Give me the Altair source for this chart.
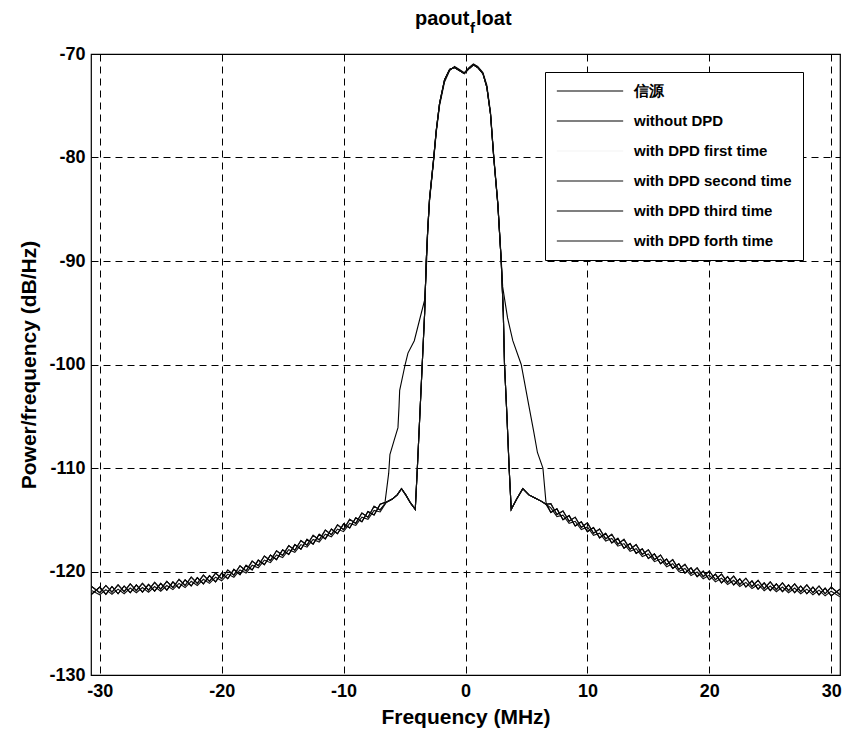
import altair as alt
import pandas as pd

# ---------------- data ----------------
series_names = ["信源", "without DPD", "with DPD first time",
                "with DPD second time", "with DPD third time", "with DPD forth time"]
series_colors = ["#000000", "#000000", "#f4f4f4", "#111111", "#000000", "#111111"]

floor_left_x = [-30.72, -30.0, -29.5, -29.0, -28.5, -28.0, -27.5, -27.0, -26.5, -26.0,
                -25.5, -25.0, -24.5, -24.0, -23.5, -23.0, -22.5, -22.0, -21.5, -21.0,
                -20.5, -20.0, -19.5, -19.0, -18.5, -18.0, -17.5, -17.0, -16.5, -16.0,
                -15.5, -15.0, -14.5, -14.0, -13.5, -13.0, -12.5, -12.0, -11.5, -11.0,
                -10.5, -10.0, -9.5, -9.0, -8.5, -8.0, -7.5, -7.0]
floor_left_a = [-121.40, -122.05, -121.35, -122.00, -121.30, -121.95, -121.20, -121.85, -121.15, -121.80,
                -121.05, -121.70, -120.95, -121.55, -120.75, -121.35, -120.55, -121.15, -120.35, -120.95,
                -120.15, -120.70, -119.85, -120.35, -119.45, -119.95, -119.00, -119.45, -118.50, -118.95,
                -118.00, -118.45, -117.50, -117.95, -117.00, -117.45, -116.50, -116.95, -116.00, -116.45,
                -115.50, -115.95, -114.95, -115.35, -114.35, -114.75, -113.70, -114.05]
floor_left_b = [-122.25, -121.50, -122.20, -121.45, -122.15, -121.40, -122.05, -121.30, -122.00, -121.25,
                -121.90, -121.15, -121.80, -121.00, -121.60, -120.80, -121.40, -120.60, -121.20, -120.40,
                -121.00, -120.15, -120.70, -119.80, -120.30, -119.40, -119.85, -118.90, -119.35, -118.40,
                -118.85, -117.90, -118.35, -117.40, -117.85, -116.90, -117.35, -116.40, -116.85, -115.90,
                -116.35, -115.40, -115.80, -114.80, -115.20, -114.20, -114.55, -113.50]
floor_left_c = [-121.80, -122.25, -121.75, -122.20, -121.70, -122.15, -121.60, -122.05, -121.55, -122.00,
                -121.45, -121.90, -121.35, -121.75, -121.15, -121.55, -120.95, -121.35, -120.75, -121.15,
                -120.55, -120.90, -120.25, -120.55, -119.85, -120.15, -119.40, -119.65, -118.90, -119.15,
                -118.40, -118.65, -117.90, -118.15, -117.40, -117.65, -116.90, -117.15, -116.40, -116.65,
                -115.90, -116.15, -115.35, -115.55, -114.75, -114.95, -114.10, -114.25]

floor_right_x = [7.0, 7.5, 8.0, 8.5, 9.0, 9.5, 10.0, 10.5, 11.0, 11.5,
                 12.0, 12.5, 13.0, 13.5, 14.0, 14.5, 15.0, 15.5, 16.0, 16.5,
                 17.0, 17.5, 18.0, 18.5, 19.0, 19.5, 20.0, 20.5, 21.0, 21.5,
                 22.0, 22.5, 23.0, 23.5, 24.0, 24.5, 25.0, 25.5, 26.0, 26.5,
                 27.0, 27.5, 28.0, 28.5, 29.0, 29.5, 30.0, 30.72]
floor_right_a = [-113.45, -114.50, -114.15, -115.15, -114.75, -115.75, -115.30, -116.30, -115.90, -116.85,
                 -116.40, -117.35, -116.90, -117.85, -117.40, -118.35, -117.90, -118.85, -118.40, -119.35,
                 -118.85, -119.80, -119.30, -120.20, -119.65, -120.50, -119.95, -120.80, -120.25, -121.05,
                 -120.45, -121.25, -120.65, -121.45, -120.85, -121.65, -121.00, -121.75, -121.10, -121.85,
                 -121.20, -121.95, -121.30, -122.05, -121.40, -122.15, -121.50, -122.25]
floor_right_b = [-114.30, -113.95, -115.00, -114.60, -115.60, -115.20, -116.15, -115.75, -116.75, -116.30,
                 -117.25, -116.80, -117.75, -117.30, -118.25, -117.80, -118.75, -118.30, -119.25, -118.80,
                 -119.70, -119.25, -120.15, -119.65, -120.50, -119.95, -120.80, -120.25, -121.10, -120.50,
                 -121.30, -120.70, -121.50, -120.90, -121.70, -121.10, -121.85, -121.20, -121.95, -121.30,
                 -122.05, -121.40, -122.15, -121.50, -122.25, -121.60, -122.35, -121.70]
floor_right_c = [-113.85, -114.70, -114.55, -115.35, -115.15, -115.95, -115.70, -116.50, -116.30, -117.05,
                 -116.80, -117.55, -117.30, -118.05, -117.80, -118.55, -118.30, -119.05, -118.80, -119.55,
                 -119.25, -120.00, -119.70, -120.40, -120.05, -120.70, -120.35, -121.00, -120.65, -121.25,
                 -120.85, -121.45, -121.05, -121.65, -121.25, -121.85, -121.40, -121.95, -121.50, -122.05,
                 -121.60, -122.15, -121.70, -122.25, -121.80, -122.35, -121.90, -122.45]

# main lobe of the source / DPD curves
steep_x = [-6.5, -6.0, -5.6, -5.25, -4.9, -4.5, -4.12, -3.95, -3.75, -3.55, -3.35, -3.22, -3.1, -2.95,
           -2.62, -2.4, -2.13, -1.72, -1.3, -0.9, -0.5, -0.1, 0.3, 0.65, 1.0, 1.43, 1.75, 2.05, 2.33,
           2.65, 2.93, 3.1, 3.2, 3.4, 3.58, 3.75, 4.2, 4.7, 5.2, 5.7, 6.2, 6.6]
steep_y = [-113.3, -113.0, -112.6, -112.0, -112.6, -113.4, -114.0, -110.0, -105.0, -100.0, -95.0, -90.0,
           -87.0, -84.0, -80.2, -77.4, -74.8, -72.5, -71.5, -71.3, -71.6, -71.9, -71.4, -71.05, -71.3,
           -71.9, -73.2, -75.8, -80.2, -84.5, -90.0, -95.0, -100.0, -105.0, -110.0, -114.0, -113.0,
           -112.0, -112.6, -112.9, -113.2, -113.5]

# main lobe of the curve without DPD (spectral regrowth shoulders)
wide_x = [-6.6, -6.3, -6.2, -5.85, -5.54, -5.45, -5.4, -4.95, -4.72, -4.2, -3.77, -3.36, -3.22, -3.1,
          -2.95, -2.62, -2.4, -2.13, -1.72, -1.3, -0.9, -0.5, -0.1, 0.3, 0.65, 1.0, 1.43, 1.75, 2.05,
          2.33, 2.65, 2.93, 3.05, 3.45, 3.88, 4.57, 5.2, 5.6, 5.9, 6.35, 6.6]
wide_y = [-113.3, -110.5, -108.7, -107.3, -106.1, -104.0, -102.5, -100.0, -98.9, -97.7, -95.7, -93.8,
          -91.0, -87.2, -84.2, -80.4, -77.6, -75.0, -72.7, -71.6, -71.2, -71.5, -71.8, -71.3, -70.95,
          -71.2, -71.8, -73.0, -75.6, -80.0, -84.3, -89.8, -92.5, -95.5, -97.7, -100.0, -104.0, -106.5,
          -108.5, -110.0, -113.3]

x_ticks = [-30, -20, -10, 0, 10, 20, 30]
y_ticks = [-130, -120, -110, -100, -90, -80, -70]

# ---------------- build table ----------------
composition = {
    "信源": (floor_left_a, steep_x, steep_y, floor_right_a),
    "without DPD": (floor_left_b, wide_x, wide_y, floor_right_b),
    "with DPD first time": (floor_left_c, steep_x, steep_y, floor_right_c),
    "with DPD second time": (floor_left_c, steep_x, steep_y, floor_right_c),
    "with DPD third time": (floor_left_b, steep_x, steep_y, floor_right_b),
    "with DPD forth time": (floor_left_a, steep_x, steep_y, floor_right_a),
}
rows = []
for k, name in enumerate(series_names):
    fl, lx, ly, fr = composition[name]
    xs = floor_left_x + lx + floor_right_x
    ys = fl + ly + fr
    for i, (xv, yv) in enumerate(zip(xs, ys)):
        rows.append({"series": name, "f": xv, "p": yv, "k": k, "i": i})
df = pd.DataFrame(rows)

FONT = "Liberation Sans"
W, H = 749, 621

color_scale = alt.Scale(domain=series_names, range=series_colors)

x_enc = alt.X("f:Q", title="Frequency (MHz)",
              scale=alt.Scale(domain=[-30.72, 30.72], nice=False, zero=False),
              axis=alt.Axis(values=x_ticks, labelExpr="'' + datum.value", grid=True, ticks=False,
                            domain=False, labelPadding=7, titlePadding=6, labelFlush=False))
y_enc = alt.Y("p:Q", title="Power/frequency (dB/Hz)",
              scale=alt.Scale(domain=[-130, -70], nice=False, zero=False),
              axis=alt.Axis(values=y_ticks, labelExpr="'' + datum.value", grid=True, ticks=False,
                            domain=False, labelPadding=6, titlePadding=9, labelFlush=False))

under = alt.Chart(df).mark_line(
    strokeWidth=1.1, clip=True, color="#f4f4f4"
).encode(
    x=x_enc, y=y_enc,
    detail="series:N",
    order="i:Q",
).transform_filter(alt.datum.series == "with DPD first time")

lines = alt.Chart(df).mark_line(strokeWidth=1.1, clip=True).encode(
    x=x_enc, y=y_enc,
    color=alt.Color("series:N", scale=color_scale, sort=series_names,
                    legend=alt.Legend(title=None, orient="none", legendX=454, legendY=18,
                                      symbolType="stroke", symbolSize=4400, symbolStrokeWidth=1.2,
                                      clipHeight=16, rowPadding=14,
                                      labelFont=FONT, labelFontSize=15, labelFontWeight="bold",
                                      labelColor="black", labelOffset=10,
                                      padding=11, strokeColor="black", fillColor="white",
                                      cornerRadius=0, labelLimit=300)),
    order="i:Q",
).transform_filter(alt.datum.series != "with DPD first time")

title_df = pd.DataFrame({"t": ["paout"], "s": ["f"], "u": ["loat"]})
t1 = alt.Chart(title_df).mark_text(font=FONT, fontSize=20, fontWeight="bold", align="left",
                                   baseline="alphabetic", color="black", clip=False).encode(
    text="t:N", x=alt.value(324), y=alt.value(-29))
t2 = alt.Chart(title_df).mark_text(font=FONT, fontSize=15, fontWeight="bold", align="left",
                                   baseline="alphabetic", color="black", clip=False).encode(
    text="s:N", x=alt.value(379), y=alt.value(-21))
t3 = alt.Chart(title_df).mark_text(font=FONT, fontSize=20, fontWeight="bold", align="left",
                                   baseline="alphabetic", color="black", clip=False).encode(
    text="u:N", x=alt.value(385), y=alt.value(-29))

chart = alt.layer(under, lines, t1, t2, t3).properties(
    width=W, height=H,
    autosize=alt.AutoSizeParams(type="none"),
    padding={"left": 91, "top": 54, "right": 8, "bottom": 70},
    background="white",
).configure_view(
    stroke="black", strokeWidth=1.2, fill="white"
).configure_axis(
    labelFont=FONT, labelFontSize=18, labelFontWeight="bold", labelColor="black",
    titleFont=FONT, titleFontSize=21, titleFontWeight="bold", titleColor="black",
    gridColor="black", gridDash=[7, 5], gridWidth=1, gridOpacity=1,
)

chart.save("out.html", embed_options={"renderer": "svg", "actions": False})
